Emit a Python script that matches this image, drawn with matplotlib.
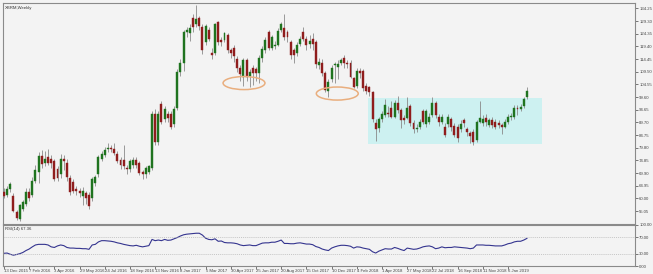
import matplotlib
matplotlib.use('Agg')
import matplotlib.pyplot as plt
from matplotlib.patches import Rectangle, Ellipse
import numpy as np

plt.rcParams['font.family'] = ['Liberation Sans', 'DejaVu Sans']

title = "XBRM,Weekly"

opens = [62.5, 61.5, 63.5, 61.0, 54.5, 52.0, 56.0, 58.0, 62.5, 61.5, 67.0, 70.5, 76.5, 74.0, 76.0, 75.5,
         74.5, 71.5, 69.5, 75.5, 74.0, 68.0, 66.5, 63.5, 63.0, 61.0, 62.0, 61.5, 60.0, 66.0, 69.5, 75.5,
         77.0, 79.5, 79.7, 79.5, 77.5, 75.0, 75.0, 71.8, 71.5, 73.0, 75.0, 74.0, 70.5, 69.5, 70.5, 72.0,
         93.0, 82.0, 97.0, 91.0, 93.0, 93.0, 89.0, 95.5, 109.5, 113.0, 125.0, 124.5, 130.5, 128.0, 130.5, 127.0,
         121.0, 126.0, 117.0, 117.0, 129.0, 122.0, 122.0, 124.0, 118.0, 119.0, 114.5, 111.0, 107.5, 114.0, 108.0, 111.0,
         110.5, 109.0, 115.0, 118.0, 125.0, 119.0, 119.5, 120.0, 126.0, 126.5, 125.0, 121.0, 118.0, 117.0, 120.5, 125.0,
         122.5, 120.5, 122.5, 121.0, 112.0, 113.0, 109.0, 102.0, 106.5, 112.0, 111.5, 113.0, 115.0,
         113.0, 113.0, 107.0, 104.0, 110.0, 110.0, 104.0, 103.5, 101.5,
         89.5, 87.5, 91.0, 92.5, 93.5, 95.5, 92.0, 97.5, 94.5, 91.5, 91.5, 96.0, 89.5, 87.2, 88.0, 94.0,
         89.0, 90.0, 92.5, 97.3, 92.0, 90.0, 88.0, 89.0, 91.0, 88.5, 88.0, 87.0, 90.5, 87.0, 85.5, 86.0,
         82.8, 90.0, 89.5, 91.5, 88.8, 90.6, 89.8, 89.5, 88.8, 88.0, 89.8, 91.8, 92.0, 95.5, 95.0, 96.0, 99.8]

closes = [61.0, 63.5, 65.5, 55.0, 52.5, 57.5, 58.5, 62.5, 60.0, 67.0, 71.0, 76.5, 73.5, 75.5, 74.0, 74.0,
          67.5, 68.0, 75.5, 74.5, 68.5, 62.5, 63.0, 63.0, 62.0, 63.0, 60.0, 57.0, 67.5, 68.5, 76.0, 77.5,
          79.0, 79.8, 79.3, 77.8, 74.5, 73.0, 72.5, 71.4, 74.5, 75.0, 73.0, 70.0, 69.5, 72.0, 72.5, 93.0,
          82.0, 93.0, 90.0, 95.0, 91.5, 88.0, 95.0, 109.5, 113.0, 125.0, 126.0, 126.5, 127.0, 130.0, 127.5, 118.0,
          127.5, 122.5, 116.0, 128.0, 121.0, 121.0, 124.5, 118.0, 117.0, 115.5, 111.0, 108.5, 114.0, 107.5, 109.5, 109.0,
          109.0, 115.0, 118.5, 122.0, 119.0, 123.0, 120.0, 125.5, 128.0, 123.0, 123.0, 116.0, 116.0, 120.0, 122.5, 122.5,
          120.0, 121.5, 120.5, 112.5, 113.5, 109.0, 102.5, 105.5, 111.0, 112.5, 112.5, 114.3, 113.0,
          112.5, 107.5, 103.5, 110.0, 109.0, 103.0, 102.0, 101.5, 91.0,
          87.0, 91.0, 93.0, 96.5, 93.0, 92.0, 97.2, 94.5, 90.5, 90.5, 95.5, 89.5, 87.0, 87.7, 90.0, 90.0,
          94.0, 92.0, 97.3, 92.5, 90.0, 91.8, 84.8, 91.8, 88.0, 84.8, 83.6, 89.0, 89.5, 85.8, 84.5, 82.2,
          89.8, 91.5, 91.0, 89.8, 90.6, 88.8, 88.0, 88.8, 88.0, 89.8, 91.8, 92.2, 95.5, 95.0, 95.8, 98.8, 102.0]

highs = [64.0, 65.0, 66.5, 62.0, 55.5, 58.0, 59.5, 64.0, 64.0, 68.5, 73.0, 78.0, 79.0, 78.5, 79.5, 77.0,
         75.5, 72.5, 77.5, 77.0, 75.5, 69.0, 67.5, 65.0, 64.0, 64.5, 63.0, 62.5, 68.5, 69.0, 77.0, 78.5,
         80.0, 81.5, 81.0, 81.5, 78.5, 76.0, 81.0, 73.0, 75.5, 76.0, 76.0, 74.5, 71.0, 72.5, 73.0, 94.0,
         95.0, 94.0, 98.0, 96.0, 94.0, 94.0, 96.0, 110.5, 114.5, 126.0, 127.0, 128.0, 132.0, 135.6, 131.5, 128.0,
         128.0, 127.0, 119.0, 128.5, 129.5, 123.0, 125.0, 124.5, 119.0, 120.0, 115.5, 112.0, 115.0, 115.0, 110.5, 112.0,
         111.5, 116.0, 119.5, 123.0, 126.0, 124.0, 121.5, 126.5, 129.0, 132.0, 126.0, 122.0, 119.0, 121.0, 123.5, 127.0,
         123.5, 124.0, 124.5, 122.0, 115.0, 114.5, 110.0, 106.5, 112.0, 113.5, 114.0, 115.0, 116.0,
         114.0, 114.0, 107.5, 111.0, 111.0, 110.5, 105.0, 104.0, 102.0,
         91.0, 92.0, 94.0, 99.0, 96.0, 98.0, 98.5, 100.0, 95.5, 92.5, 99.5, 97.0, 90.5, 89.0, 91.0, 95.0,
         95.0, 93.5, 99.5, 98.0, 93.0, 93.0, 89.5, 93.0, 92.0, 89.5, 89.0, 90.5, 91.5, 88.0, 86.5, 87.0,
         90.5, 98.0, 92.5, 93.0, 91.5, 92.0, 91.0, 90.5, 89.5, 91.0, 93.0, 93.5, 96.5, 96.5, 96.8, 99.5, 103.5]

lows = [60.0, 60.5, 62.5, 54.5, 51.5, 51.0, 55.0, 57.0, 59.0, 60.5, 66.0, 66.0, 72.0, 72.5, 73.0, 72.0,
        67.0, 67.0, 68.0, 71.0, 67.0, 61.5, 62.0, 61.5, 60.5, 57.5, 58.0, 56.0, 59.0, 65.0, 68.5, 74.5,
        76.0, 78.0, 78.0, 77.0, 74.0, 71.5, 71.5, 69.5, 70.5, 72.0, 72.0, 69.0, 67.5, 68.0, 69.5, 71.0,
        81.0, 81.0, 89.0, 90.0, 90.0, 87.0, 88.0, 94.5, 108.0, 110.0, 123.0, 121.5, 125.0, 127.0, 126.0, 116.5,
        120.0, 121.5, 114.5, 116.0, 120.0, 119.5, 121.0, 117.0, 115.0, 113.5, 109.5, 106.0, 104.0, 106.0, 103.5, 104.5,
        106.0, 105.0, 113.5, 117.0, 118.0, 118.0, 118.5, 119.5, 125.0, 122.0, 121.0, 114.5, 113.0, 115.5, 119.5, 121.5,
        118.0, 119.0, 118.0, 111.0, 110.5, 108.0, 101.5, 99.5, 105.5, 105.0, 106.5, 112.0, 111.0,
        111.0, 107.0, 103.0, 103.0, 107.0, 102.0, 101.0, 100.0, 90.0,
        82.5, 86.0, 90.0, 92.0, 92.0, 91.5, 91.5, 93.5, 87.5, 89.0, 91.0, 88.5, 85.5, 86.0, 87.0, 89.0,
        88.0, 89.0, 92.0, 91.5, 88.5, 89.0, 84.0, 88.0, 86.5, 84.0, 82.0, 86.0, 88.0, 84.5, 81.8, 81.0,
        82.0, 89.5, 88.5, 88.5, 88.0, 87.5, 87.0, 87.5, 85.0, 87.5, 89.0, 90.5, 91.0, 92.5, 94.0, 95.5, 99.0]

rsi = [31, 31.6, 28.6, 26.4, 28, 30, 33, 37.7, 41.4, 46.7,
       51.3, 52.8, 52.8, 52.8, 51.3, 46.7, 45.2, 49, 51.3, 49.7,
       45.2, 43.7, 43.7, 43, 43, 42.2, 42.2, 40.7, 51.3, 52.8,
       58.8, 61.8, 61.8, 61, 60.3, 58.8, 56.5, 55, 52.8, 51.3,
       49.7, 49, 50.5, 48.2, 46.7, 48.2, 49.7, 64.8, 61.8, 63.3,
       61.8, 64.8, 62.6, 63.3, 66.3, 69.3, 73.1, 76.1, 77.6, 78.4,
       79.2, 79.9, 79.9, 75.4, 67.8, 64.8, 64, 66.3, 60.3, 61,
       57.3, 56.5, 56.5, 55.8, 54.3, 51.3, 49.7, 50.5, 51.3, 49.7,
       49.7, 52.8, 55.8, 56.5, 56.5, 58, 58, 60.3, 63.3, 55,
       55, 54.3, 54.3, 55.8, 56.5, 55, 53.5, 53.5, 52, 47.5,
       45.2, 41.4, 39.2, 37.7, 43.7, 46.7, 49, 50.5, 50.5, 49.7,
       48.2, 43.7, 46.7, 46, 43.7, 42.2, 40.7, 34.7, 31.6, 36.2,
       39.2, 42.2, 41.4, 41.4, 45.2, 43, 40, 37.7, 43.7, 42.2,
       40.7, 41.4, 43.7, 46.7, 48.2, 49, 46.7, 42.2, 43.7, 46.7,
       44.5, 45.2, 45.2, 46.7, 46, 45.2, 44.5, 43.7, 42.2, 43.7,
       51.3, 51.3, 51.3, 50.5, 50.5, 49.7, 49, 49, 49, 51.3,
       54.3, 55.8, 58.8, 60.3, 60.3, 63.3, 67.36]

date_labels = ["13 Dec 2015", "7 Feb 2016", "3 Apr 2016", "29 May 2016", "24 Jul 2016",
               "18 Sep 2016", "13 Nov 2016", "8 Jan 2017", "5 Mar 2017", "30 Apr 2017",
               "25 Jun 2017", "20 Aug 2017", "15 Oct 2017", "10 Dec 2017", "4 Feb 2018",
               "1 Apr 2018", "27 May 2018", "22 Jul 2018", "16 Sep 2018", "11 Nov 2018",
               "6 Jan 2019"]
price_ticks = [134.25, 129.30, 124.35, 119.40, 114.45, 109.50, 104.55, 99.60, 94.65,
               89.70, 84.75, 79.80, 74.85, 69.90, 64.95, 60.00, 55.05]
rsi_ticks = [0, 30, 70, 100]
rsi_label = "RSI(14) 67.36"

# range box (week index, price) and highlighted lows
box_x = [115.6, 170.8]
box_y = [81.3, 99.3]
ellipse_centers = [(76.2, 105.1), (105.8, 101.0)]

N = len(closes)
idx = np.arange(N)
o = np.array(opens); c = np.array(closes); h = np.array(highs); l = np.array(lows)

W, H = 653, 274
bg = '#f3f3f3'
fs = 3.1
fig = plt.figure(figsize=(W / 100, H / 100), dpi=100, facecolor=bg)
ax = fig.add_axes([3 / W, (H - 224) / H, 632 / W, 221 / H], facecolor=bg)
rx = fig.add_axes([3 / W, (H - 266) / H, 632 / W, 41 / H], facecolor=bg, sharex=ax)

green = '#1f731f'
red = '#8f1d1d'
cols = [green if cc >= oo else red for oo, cc in zip(o, c)]
ax.vlines(idx, l, h, color='#8a8a8a', lw=0.6, zorder=2)
body = np.where(np.abs(c - o) < 0.3, 0.3, c - o)
ax.bar(idx, body, bottom=o, width=0.62, color=cols, edgecolor=cols, lw=0.3, zorder=3)

ax.add_patch(Rectangle((box_x[0], box_y[0]), box_x[1] - box_x[0], box_y[1] - box_y[0],
                       facecolor='#cdf1f1', edgecolor='none', zorder=1))
for cx, cy in ellipse_centers:
    ax.add_patch(Ellipse((cx, cy), 13.3, 5.1, fill=False, edgecolor='#e9ae7e', lw=1.1, zorder=4))

ax.set_xlim(-0.3, 200.3)
ax.set_ylim(50.0, 136.4)
ax.yaxis.tick_right()
ax.set_yticks(price_ticks)
ax.set_yticklabels([f"{t:.2f}" for t in price_ticks])
ax.tick_params(axis='y', labelsize=fs, length=2, width=0.5, pad=1, colors='#444444')
ax.tick_params(axis='x', bottom=False, labelbottom=False)
for s in ax.spines.values():
    s.set_color('#8a8a8a'); s.set_linewidth(0.8)
ax.text(0.003, 0.988, title, transform=ax.transAxes, fontsize=fs, va='top', ha='left', color='#333333')

rx.plot(idx, rsi, color='#34348f', lw=0.8)
rx.axhline(70, color='#b5b5b5', lw=0.5, ls=(0, (1.5, 1.5)))
rx.axhline(30, color='#b5b5b5', lw=0.5, ls=(0, (1.5, 1.5)))
rx.set_ylim(0, 100)
rx.yaxis.tick_right()
rx.set_yticks(rsi_ticks)
rx.set_yticklabels([f"{t:.2f}" for t in rsi_ticks])
rx.tick_params(axis='y', labelsize=fs, length=2, width=0.5, pad=1, colors='#444444')
tick_pos = np.arange(0, 8 * len(date_labels), 8)
rx.set_xticks(tick_pos)
rx.set_xticklabels(date_labels, ha='left')
rx.tick_params(axis='x', labelsize=fs, length=2, width=0.5, pad=0.5, colors='#444444')
for s in rx.spines.values():
    s.set_color('#8a8a8a'); s.set_linewidth(0.8)
rx.text(0.003, 0.96, rsi_label, transform=rx.transAxes, fontsize=fs, va='top', ha='left', color='#333333')

fig.savefig('out.png', dpi=100, facecolor=bg)
